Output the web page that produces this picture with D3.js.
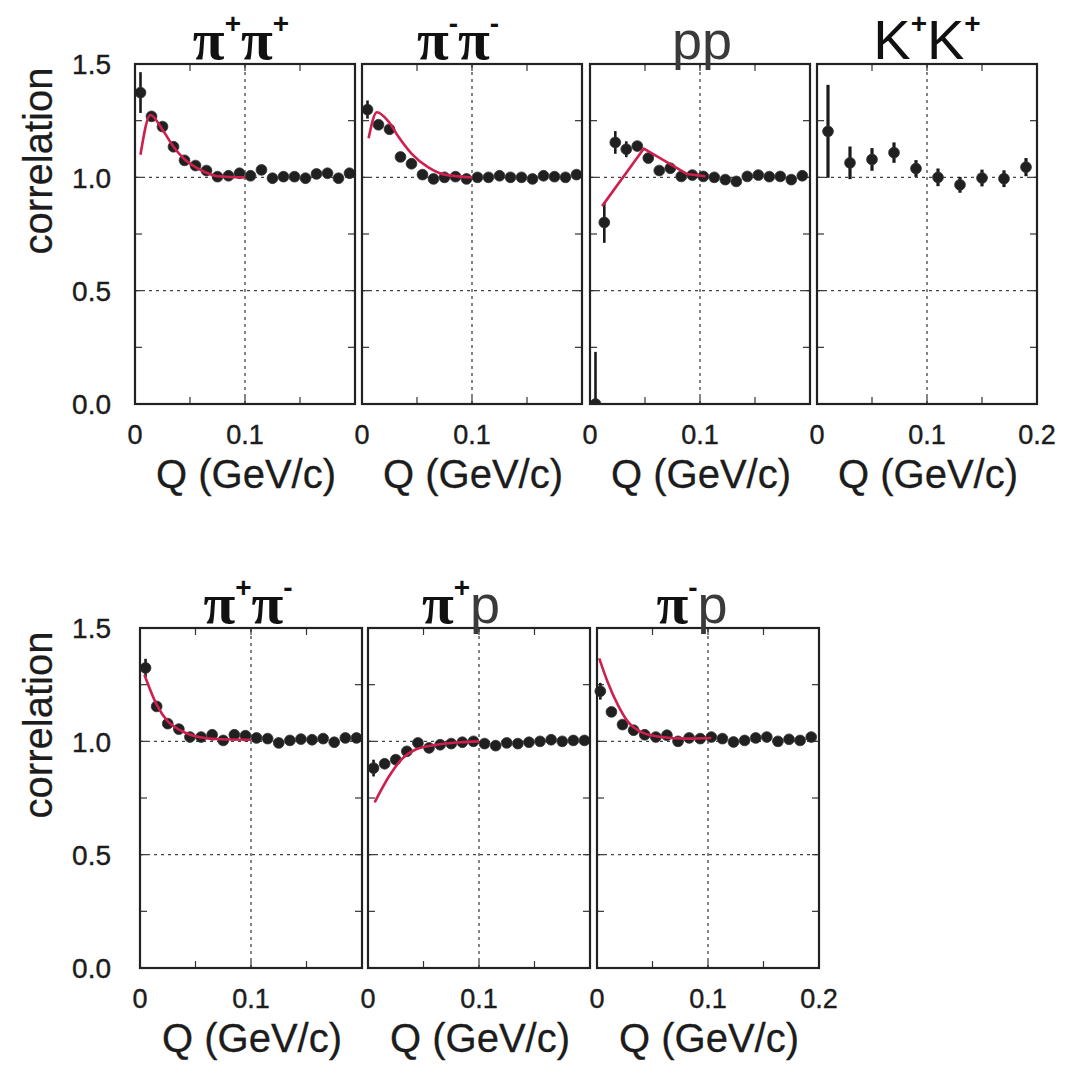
<!DOCTYPE html>
<html><head><meta charset="utf-8">
<script src="https://cdn.jsdelivr.net/npm/d3@7"></script>
<style>body{margin:0;background:#fff}svg{display:block}</style>
</head><body>
<svg id="chart" width="1066" height="1070"></svg>
<script>
// ---------------- data ----------------
const panelTitles = ["π^+π^+", "π^-π^-", "pp", "K^+K^+", "π^+π^-", "π^+p", "π^-p"];
const yTicks = [0, 0.5, 1.0, 1.5];
const yTickLabels = ["0.0", "0.5", "1.0", "1.5"];
const xTicks = [0, 0.1, 0.2];
const xTickLabels = ["0", "0.1", "0.2"];
const xTitle = "Q (GeV/c)";
const yTitle = "correlation";

const qBins = [0.005,0.015,0.025,0.035,0.045,0.055,0.065,0.075,0.085,0.095,0.105,0.115,0.125,0.135,0.145,0.155,0.165,0.175,0.185,0.195];
const qPP = [0.005,0.013,0.023,0.033,0.043,0.053,0.063,0.073,0.083,0.093,0.103,0.113,0.123,0.133,0.143,0.153,0.163,0.173,0.183,0.193];
const qKK = [0.01,0.03,0.05,0.07,0.09,0.11,0.13,0.15,0.17,0.19];
const qPimP = [0.003,0.013,0.023,0.033,0.043,0.053,0.063,0.073,0.083,0.093,0.103,0.113,0.123,0.133,0.143,0.153,0.163,0.173,0.183,0.193];

const corrPipPip = [1.374,1.269,1.224,1.135,1.075,1.052,1.030,1.003,1.007,1.018,1.007,1.033,0.996,1.003,1.003,0.996,1.015,1.018,0.996,1.018];
const errPipPip  = [0.09,0,0,0,0,0,0,0,0,0,0,0,0,0,0,0,0,0,0,0];
const corrPimPim = [1.299,1.232,1.212,1.090,1.060,1.012,0.993,1.000,1.003,0.993,1.000,1.000,1.007,1.000,1.000,0.993,1.007,1.003,1.000,1.012];
const errPimPim  = [0.04,0,0,0,0,0,0,0,0,0,0,0,0,0,0,0,0,0,0,0];
const corrPP = [0.0,0.801,1.154,1.124,1.138,1.085,1.030,1.040,1.004,1.010,1.004,1.000,0.990,0.982,1.004,1.010,1.003,1.004,0.990,1.007];
const errPP  = [0.23,0.09,0.05,0.035,0,0,0,0,0,0,0,0,0,0,0,0,0,0,0,0];
const corrKK = [1.203,1.064,1.079,1.109,1.039,1.000,0.967,0.997,0.994,1.045];
const errKK  = [0.205,0.072,0.05,0.045,0.037,0.039,0.035,0.037,0.037,0.04];
const corrPipPim = [1.324,1.154,1.078,1.054,1.019,1.019,1.029,1.004,1.029,1.025,1.015,1.012,0.993,1.004,1.010,1.007,1.012,0.996,1.015,1.015];
const errPipPim  = [0.04,0,0,0,0,0,0,0,0,0,0,0,0,0,0,0,0,0,0,0];
const corrPipP = [0.882,0.901,0.919,0.956,0.993,0.971,0.985,0.990,0.996,1.000,0.990,0.981,0.993,0.990,0.996,1.000,1.007,1.000,1.004,1.004];
const errPipP  = [0.037,0,0,0,0,0,0,0,0,0,0,0,0,0,0,0,0,0,0,0];
const corrPimP = [1.221,1.130,1.074,1.049,1.029,1.019,1.027,1.000,1.015,1.012,1.019,1.012,0.997,1.004,1.015,1.019,1.000,1.009,1.004,1.019];
const errPimP  = [0.037,0,0,0,0,0,0,0,0,0,0,0,0,0,0,0,0,0,0,0];

const fitPipPipQ = [0.005,0.014,0.025,0.035,0.045,0.055,0.065,0.075,0.1];
const fitPipPipC = [1.10,1.275,1.21,1.135,1.08,1.045,1.02,1.005,1.0];
const fitPimPimQ = [0.006,0.0135,0.024,0.033,0.045,0.06,0.075,0.1];
const fitPimPimC = [1.172,1.287,1.247,1.18,1.105,1.045,1.012,1.0];
const fitPPQ = [0.011,0.049,0.088,0.105];
const fitPPC = [0.873,1.127,1.015,1.005];
const fitPipPimQ = [0.004,0.015,0.025,0.036,0.05,0.068,0.1];
const fitPipPimC = [1.294,1.162,1.088,1.049,1.022,1.01,1.007];
const fitPipPQ = [0.006,0.019,0.03,0.044,0.062,0.083,0.1];
const fitPipPC = [0.731,0.846,0.919,0.966,0.985,0.996,1.0];
const fitPimPQ = [0.002,0.0095,0.019,0.028,0.04,0.058,0.08,0.103];
const fitPimPC = [1.366,1.263,1.159,1.086,1.041,1.019,1.012,1.015];

// ---------------- layout ----------------
const rows = [
  {y0: 404, y1: 64, lefts: [135, 362, 590, 817], w: 220},
  {y0: 968, y1: 628, lefts: [140, 368, 597], w: 222}
];
const panels = [
  {row:0, col:0, q:qBins, c:corrPipPip, e:errPipPip, fq:fitPipPipQ, fc:fitPipPipC, curve:d3.curveMonotoneX, dx:-4},
  {row:0, col:1, q:qBins, c:corrPimPim, e:errPimPim, fq:fitPimPimQ, fc:fitPimPimC, curve:d3.curveMonotoneX, dx:-14},
  {row:0, col:2, q:qPP,   c:corrPP,     e:errPP,     fq:fitPPQ,     fc:fitPPC,     curve:d3.curveLinear, dx:2},
  {row:0, col:3, q:qKK,   c:corrKK,     e:errKK,     fq:null,       fc:null,       curve:null, dx:0},
  {row:1, col:0, q:qBins, c:corrPipPim, e:errPipPim, fq:fitPipPimQ, fc:fitPipPimC, curve:d3.curveMonotoneX, dx:-3},
  {row:1, col:1, q:qBins, c:corrPipP,   e:errPipP,   fq:fitPipPQ,   fc:fitPipPC,   curve:d3.curveMonotoneX, dx:-18},
  {row:1, col:2, q:qPimP, c:corrPimP,   e:errPimP,   fq:fitPimPQ,   fc:fitPimPC,   curve:d3.curveMonotoneX, dx:-16}
];

const svg = d3.select("#chart");
const sans = "'Liberation Sans', Arial, Helvetica, sans-serif";
const serif = "'Liberation Serif', 'Times New Roman', serif";
const RED = "#cf1f4f";
const INK = "#1c1c1c";

// y-axis labels and titles per row
rows.forEach((r, ri) => {
  const y = d3.scaleLinear([0, 1.5], [r.y0, r.y1]);
  const gl = svg.append("g");
  gl.selectAll("text.yl").data(yTicks).join("text")
    .attr("x", 111).attr("y", d => y(d) + 3)
    .attr("text-anchor", "end").attr("dominant-baseline", "middle")
    .attr("font-family", sans).attr("font-size", 28).attr("fill", INK)
    .attr("stroke", INK).attr("stroke-width", 0.4)
    .text((d, i) => yTickLabels[i]);
  svg.append("text")
    .attr("transform", `translate(52,${(r.y0 + r.y1) / 2 - 73}) rotate(-90)`)
    .attr("text-anchor", "middle")
    .attr("font-family", sans).attr("font-size", 40).attr("fill", INK)
    .attr("stroke", INK).attr("stroke-width", 0.3)
    .text(yTitle);
});

panels.forEach((p, pi) => {
  const r = rows[p.row];
  const left = r.lefts[p.col];
  const x = d3.scaleLinear([0, 0.2], [left, left + r.w]);
  const y = d3.scaleLinear([0, 1.5], [r.y0, r.y1]);
  const g = svg.append("g");
  const clipId = "clip" + pi;
  g.append("clipPath").attr("id", clipId).append("rect")
    .attr("x", x(0) - 3).attr("y", y(1.5)).attr("width", x(0.2) - x(0) + 3).attr("height", y(0) - y(1.5));

  // grid
  g.append("g").selectAll("line").data([0.5, 1.0]).join("line")
    .attr("x1", x(0)).attr("x2", x(0.2)).attr("y1", d => y(d)).attr("y2", d => y(d))
    .attr("stroke", "#444").attr("stroke-width", 1.3).attr("stroke-dasharray", "3,4");
  g.append("line").attr("x1", x(0.1)).attr("x2", x(0.1)).attr("y1", y(0)).attr("y2", y(1.5))
    .attr("stroke", "#444").attr("stroke-width", 1.3).attr("stroke-dasharray", "3,4");

  // minor ticks
  const xt = d3.range(1, 4).map(i => i * 0.05);
  const yt = d3.range(1, 6).map(i => i * 0.25);
  const tk = g.append("g").attr("stroke", "#333").attr("stroke-width", 1.2);
  xt.forEach(v => {
    tk.append("line").attr("x1", x(v)).attr("x2", x(v)).attr("y1", y(0)).attr("y2", y(0) - 7);
    tk.append("line").attr("x1", x(v)).attr("x2", x(v)).attr("y1", y(1.5)).attr("y2", y(1.5) + 7);
  });
  yt.forEach(v => {
    tk.append("line").attr("x1", x(0)).attr("x2", x(0) + 7).attr("y1", y(v)).attr("y2", y(v));
    tk.append("line").attr("x1", x(0.2)).attr("x2", x(0.2) - 7).attr("y1", y(v)).attr("y2", y(v));
  });

  const data = p.q.map((q, i) => ({q, c: p.c[i], e: p.e[i]}));
  const dg = g.append("g").attr("clip-path", `url(#${clipId})`);
  // error bars
  dg.selectAll("line.err").data(data.filter(d => d.e > 0)).join("line")
    .attr("x1", d => x(d.q)).attr("x2", d => x(d.q))
    .attr("y1", d => y(d.c - d.e)).attr("y2", d => y(d.c + d.e))
    .attr("stroke", "#1a1a1a").attr("stroke-width", p.row === 0 && p.col === 3 ? 3.2 : 2.6);
  // dots
  dg.selectAll("circle").data(data).join("circle")
    .attr("cx", d => x(d.q)).attr("cy", d => y(d.c)).attr("r", 5.4)
    .attr("fill", "#202020").attr("stroke", "#333").attr("stroke-width", 0.8);
  // fit curve
  if (p.fq) {
    const line = d3.line().x(d => x(d[0])).y(d => y(d[1])).curve(p.curve);
    g.append("path").datum(p.fq.map((q, i) => [q, p.fc[i]]))
      .attr("d", line).attr("fill", "none").attr("stroke", RED).attr("stroke-width", 2.6)
      .attr("stroke-linejoin", "round");
  }

  // frame
  g.append("rect").attr("x", x(0)).attr("y", y(1.5))
    .attr("width", x(0.2) - x(0)).attr("height", y(0) - y(1.5))
    .attr("fill", "none").attr("stroke", "#222").attr("stroke-width", 2.2);

  // x tick labels
  const lastInRow = p.col === r.lefts.length - 1;
  const xl = xTicks.map((v, i) => ({v, t: xTickLabels[i]})).filter(d => d.v < 0.15 || lastInRow);
  g.selectAll("text.xl").data(xl).join("text")
    .attr("x", d => x(d.v)).attr("y", y(0) + 40)
    .attr("text-anchor", "middle")
    .attr("font-family", sans).attr("font-size", 27).attr("fill", INK)
    .attr("stroke", INK).attr("stroke-width", 0.4)
    .text(d => d.t);
  g.append("text").attr("x", x(0.1) + 1).attr("y", y(0) + 84)
    .attr("text-anchor", "middle").attr("font-family", sans).attr("font-size", 40).attr("fill", INK)
    .attr("stroke", INK).attr("stroke-width", 0.3)
    .text(xTitle);

  // title
  const t = g.append("text").attr("x", x(0.1) + p.dx).attr("y", y(1.5) - 5)
    .attr("text-anchor", "middle").attr("fill", "#111");
  const s = panelTitles[pi];
  let sup = false, raised = false;
  for (const ch of s) {
    if (ch === "^") { sup = true; continue; }
    const sp = t.append("tspan");
    if (sup) {
      sp.attr("font-family", sans).attr("font-weight", "bold").attr("font-size", 28)
        .attr("dy", raised ? 0 : -26).text(ch);
      raised = true; sup = false;
    } else {
      if (raised) { sp.attr("dy", 26); raised = false; }
      if (ch === "π") sp.attr("font-family", serif).attr("font-weight", "bold").attr("font-size", 58).text(ch);
      else sp.attr("font-family", sans).attr("font-size", ch === "K" ? 56 : 54).attr("fill", ch === "p" ? "#3a3a3a" : "#111").text(ch);
    }
  }
});
</script>
</body></html>
